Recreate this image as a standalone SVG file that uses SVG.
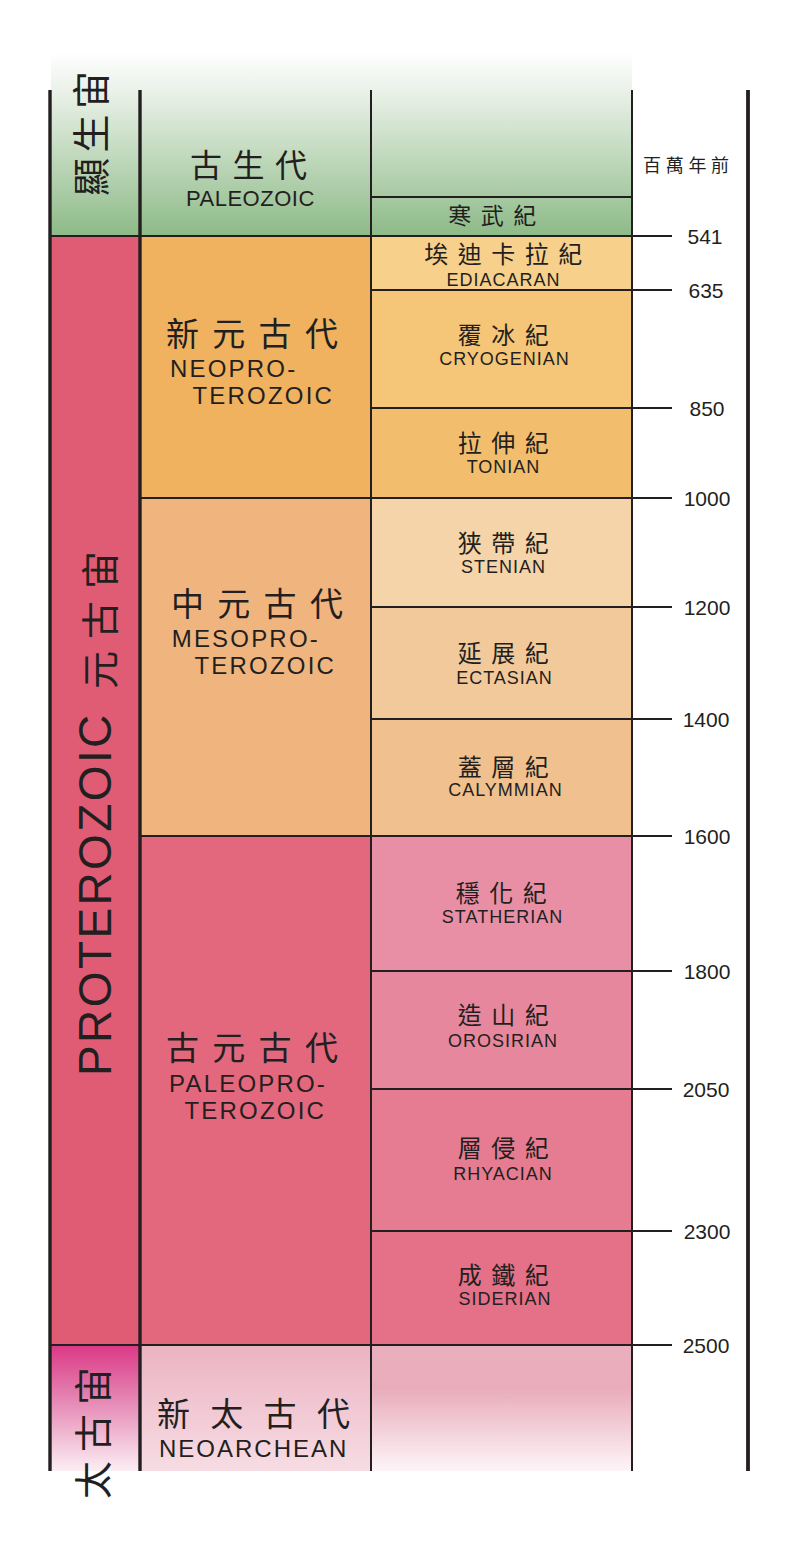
<svg xmlns="http://www.w3.org/2000/svg" width="800" height="1541" viewBox="0 0 800 1541">
<defs>
<linearGradient id="gPhan" x1="0" y1="52" x2="0" y2="236" gradientUnits="userSpaceOnUse">
<stop offset="0" stop-color="#ffffff"/>
<stop offset="0.25" stop-color="#e6efe4"/>
<stop offset="1" stop-color="#8dba87"/>
</linearGradient>
<linearGradient id="gArchEon" x1="0" y1="1345" x2="0" y2="1471" gradientUnits="userSpaceOnUse">
<stop offset="0" stop-color="#dc3886"/>
<stop offset="0.35" stop-color="#e277aa"/>
<stop offset="1" stop-color="#fbeef3"/>
</linearGradient>
<linearGradient id="gArchEra" x1="0" y1="1345" x2="0" y2="1471" gradientUnits="userSpaceOnUse">
<stop offset="0" stop-color="#ebb3c2"/>
<stop offset="1" stop-color="#f7dce4"/>
</linearGradient>
<linearGradient id="gArchPer" x1="0" y1="1345" x2="0" y2="1471" gradientUnits="userSpaceOnUse">
<stop offset="0" stop-color="#e9afbd"/>
<stop offset="0.35" stop-color="#e9acbb"/>
<stop offset="1" stop-color="#fdf5f8"/>
</linearGradient>
</defs>
<style>
.cjk{font-family:"Noto Sans CJK TC","Noto Sans CJK SC",sans-serif;fill:#231f20}
.lat{font-family:"Liberation Sans",Arial,sans-serif;fill:#231f20}
.per{font-size:24px;letter-spacing:9.5px;text-anchor:middle}
.perl{font-size:18px;letter-spacing:1px;text-anchor:middle}
.era{font-size:33px;letter-spacing:13.3px}
.eral{font-size:24px;letter-spacing:2.2px}
.eon{font-size:38px}
.num{font-size:21px;text-anchor:middle}
.thick{stroke:#231f20;stroke-width:3.4;fill:none}
.thin{stroke:#231f20;stroke-width:2;fill:none}
</style>

<g id="phanerozoic">
<rect x="51" y="52" width="581" height="184" fill="url(#gPhan)"/>
<text class="cjk eon" style="letter-spacing:5.5px" transform="translate(105,196) rotate(-90)">顯生宙</text>
</g>
<g id="paleozoic">
<text class="cjk" style="font-size:32px;letter-spacing:10.5px" x="190" y="176.5">古生代</text>
<text class="lat" style="font-size:22px;letter-spacing:0.5px" x="186" y="205.5">PALEOZOIC</text>
</g>
<g id="cambrian">
<text class="cjk per" style="font-size:23px" x="497" y="223.5">寒武紀</text>
</g>

<g id="proterozoic">
<rect x="50" y="236" width="90" height="1109" fill="#e05c75"/>
<text class="lat" style="font-size:46px;letter-spacing:2.4px" transform="translate(111,1076) rotate(-90)">PROTEROZOIC</text>
<text class="cjk eon" style="letter-spacing:12px" transform="translate(114,689) rotate(-90)">元古宙</text>
</g>

<g id="neoproterozoic">
<rect x="140" y="236" width="231" height="262" fill="#f0b25f"/>
<text class="cjk era" x="166" y="345.5">新元古代</text>
<text class="lat eral" x="170" y="377">NEOPRO-</text>
<text class="lat eral" x="192.5" y="404">TEROZOIC</text>
</g>
<g id="ediacaran">
<rect x="371" y="236" width="261" height="54" fill="#f7d08b"/>
<text class="cjk per" x="508" y="262.5">埃迪卡拉紀</text>
<text class="lat perl" x="503.5" y="286">EDIACARAN</text>
</g>
<g id="cryogenian">
<rect x="371" y="290" width="261" height="118" fill="#f5c677"/>
<text class="cjk per" x="508" y="343.5">覆冰紀</text>
<text class="lat perl" x="504.5" y="365">CRYOGENIAN</text>
</g>
<g id="tonian">
<rect x="371" y="408" width="261" height="90" fill="#f2bd6c"/>
<text class="cjk per" x="508" y="451.5">拉伸紀</text>
<text class="lat perl" x="503.5" y="473">TONIAN</text>
</g>

<g id="mesoproterozoic">
<rect x="140" y="498" width="231" height="338" fill="#f0b57f"/>
<text class="cjk era" x="171" y="615.5">中元古代</text>
<text class="lat eral" x="171.7" y="647">MESOPRO-</text>
<text class="lat eral" x="194.5" y="674">TEROZOIC</text>
</g>
<g id="stenian">
<rect x="371" y="498" width="261" height="109" fill="#f4d4a8"/>
<text class="cjk per" x="508" y="551.5">狭帶紀</text>
<text class="lat perl" x="503.5" y="573">STENIAN</text>
</g>
<g id="ectasian">
<rect x="371" y="607" width="261" height="112" fill="#f2c99a"/>
<text class="cjk per" x="508" y="661.5">延展紀</text>
<text class="lat perl" x="504.5" y="684">ECTASIAN</text>
</g>
<g id="calymmian">
<rect x="371" y="719" width="261" height="117" fill="#f0c18e"/>
<text class="cjk per" x="508" y="775.5">蓋層紀</text>
<text class="lat perl" x="505.5" y="796">CALYMMIAN</text>
</g>

<g id="paleoproterozoic">
<rect x="140" y="836" width="231" height="509" fill="#e3677d"/>
<text class="cjk era" x="166" y="1060">古元古代</text>
<text class="lat eral" x="169" y="1092">PALEOPRO-</text>
<text class="lat eral" x="184.5" y="1119">TEROZOIC</text>
</g>
<g id="statherian">
<rect x="371" y="836" width="261" height="135" fill="#e88fa6"/>
<text class="cjk per" x="506" y="901.5">穩化紀</text>
<text class="lat perl" x="502.5" y="923">STATHERIAN</text>
</g>
<g id="orosirian">
<rect x="371" y="971" width="261" height="118" fill="#e6879d"/>
<text class="cjk per" x="508" y="1023.5">造山紀</text>
<text class="lat perl" x="503" y="1047">OROSIRIAN</text>
</g>
<g id="rhyacian">
<rect x="371" y="1089" width="261" height="142" fill="#e57c91"/>
<text class="cjk per" x="508" y="1156.5">層侵紀</text>
<text class="lat perl" x="503" y="1180">RHYACIAN</text>
</g>
<g id="siderian">
<rect x="371" y="1231" width="261" height="114" fill="#e47187"/>
<text class="cjk per" x="508" y="1283.5">成鐵紀</text>
<text class="lat perl" x="505" y="1305">SIDERIAN</text>
</g>

<g id="archean">
<rect x="50" y="1345" width="90" height="126" fill="url(#gArchEon)"/>
<text class="cjk eon" style="letter-spacing:9px" transform="translate(107,1499) rotate(-90)">太古宙</text>
</g>
<g id="neoarchean">
<rect x="140" y="1345" width="231" height="126" fill="url(#gArchEra)"/>
<rect x="371" y="1345" width="261" height="126" fill="url(#gArchPer)"/>
<text class="cjk era" style="letter-spacing:20.3px" x="157" y="1426">新太古代</text>
<text class="lat eral" style="letter-spacing:2px" x="159" y="1457">NEOARCHEAN</text>
</g>

<g id="scale">
<text class="cjk" style="font-size:18px;letter-spacing:4.7px" x="643" y="172">百萬年前</text>
<text class="lat num" x="705" y="244">541</text>
<text class="lat num" x="706" y="298">635</text>
<text class="lat num" x="707" y="416">850</text>
<text class="lat num" x="707" y="506">1000</text>
<text class="lat num" x="707" y="615">1200</text>
<text class="lat num" x="706" y="727">1400</text>
<text class="lat num" x="707" y="844">1600</text>
<text class="lat num" x="707" y="979">1800</text>
<text class="lat num" x="706" y="1097">2050</text>
<text class="lat num" x="707" y="1239">2300</text>
<text class="lat num" x="706" y="1353">2500</text>
</g>

<g id="connectors">
<line class="thick" x1="50" y1="90" x2="50" y2="1471"/>
<line class="thick" x1="140" y1="90" x2="140" y2="1471"/>
<line class="thin" x1="371" y1="90" x2="371" y2="1471"/>
<line class="thin" x1="632" y1="90" x2="632" y2="1471"/>
<line class="thick" x1="748" y1="90" x2="748" y2="1471" style="stroke-width:3.8"/>
<line class="thin" x1="371" y1="197" x2="632" y2="197"/>
<line class="thin" x1="50" y1="236" x2="672" y2="236"/>
<line class="thin" x1="371" y1="290" x2="672" y2="290"/>
<line class="thin" x1="371" y1="408" x2="672" y2="408"/>
<line class="thin" x1="140" y1="498" x2="672" y2="498"/>
<line class="thin" x1="371" y1="607" x2="672" y2="607"/>
<line class="thin" x1="371" y1="719" x2="672" y2="719"/>
<line class="thin" x1="140" y1="836" x2="672" y2="836"/>
<line class="thin" x1="371" y1="971" x2="672" y2="971"/>
<line class="thin" x1="371" y1="1089" x2="672" y2="1089"/>
<line class="thin" x1="371" y1="1231" x2="672" y2="1231"/>
<line class="thin" x1="50" y1="1345" x2="672" y2="1345"/>
</g>
</svg>
